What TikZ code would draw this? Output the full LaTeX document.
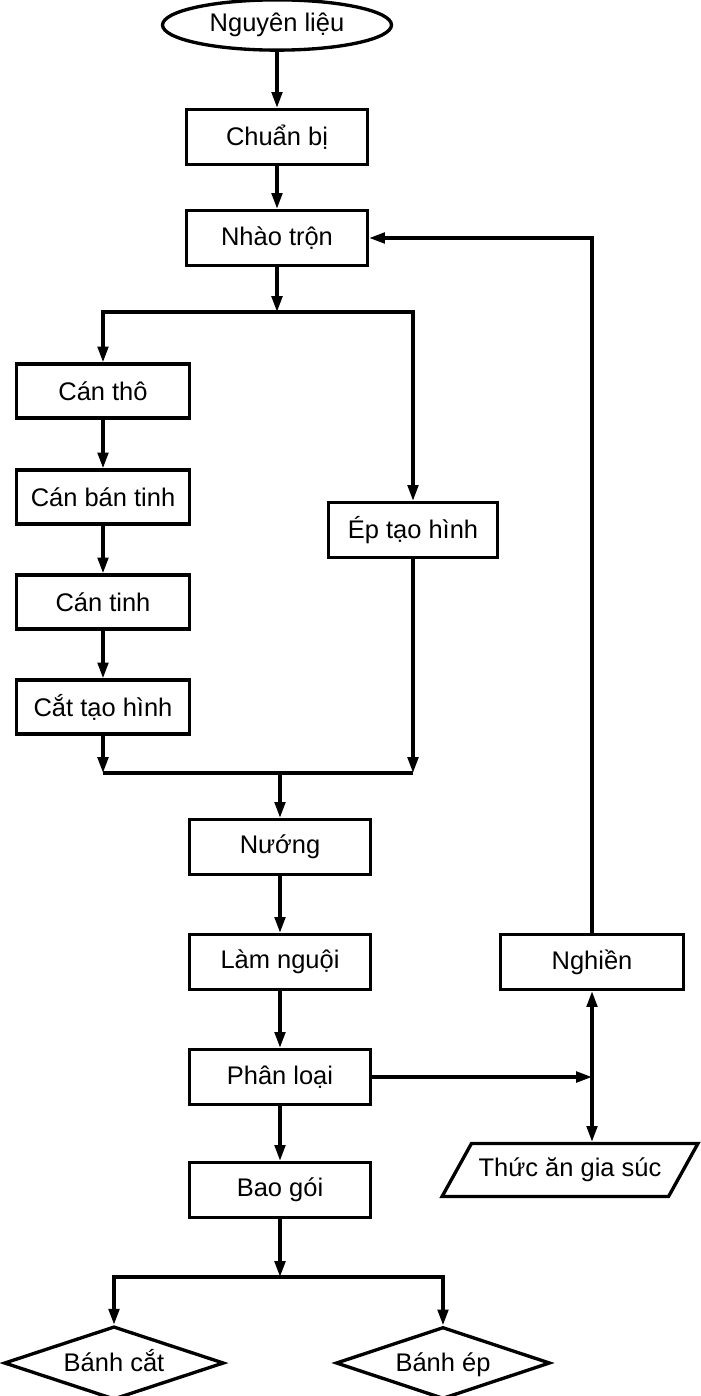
\documentclass[tikz,border=0pt]{standalone}
\usepackage{fontspec}
\setmainfont{Liberation Sans}
\usetikzlibrary{shapes.geometric,arrows.meta}

\begin{document}
\begin{tikzpicture}[x=0.02cm, y=-0.02cm, line width=1.9pt,
    font=\fontsize{14.5pt}{17pt}\selectfont,
    box/.style={draw, rectangle, minimum width=3.62cm, minimum height=1.1cm},
    lbox/.style={box, minimum width=3.46cm, minimum height=1.08cm},
    dia/.style={diamond, draw, shape aspect=3, minimum width=4.26cm, minimum height=1.44cm,
        text height=2.2ex, text depth=0.4ex},
    arr/.style={-{Triangle[length=9pt,width=6pt]}}]
\useasboundingbox (0,0) rectangle (700,1396);

    \node [ellipse, draw, minimum width=4.58cm, minimum height=0.8cm] (nl) at (277,25) {Nguyên liệu};
    \node [box] (cb) at (277,137) {Chuẩn bị};
    \node [box] (nt) at (277,238) {Nhào trộn};
    \node [lbox] (ct) at (103,391) {Cán thô};
    \node [lbox] (cbt) at (103,497) {Cán bán tinh};
    \node [lbox] (cti) at (103,602) {Cán tinh};
    \node [lbox] (cth) at (103,707) {Cắt tạo hình};
    \node [box, minimum width=3.38cm] (eth) at (413,530) {Ép tạo hình};
    \node [box] (nu) at (280,847) {Nướng};
    \node [box] (ln) at (280,962) {Làm nguội};
    \node [box] (pl) at (280,1077) {Phân loại};
    \node [box] (bg) at (280,1190) {Bao gói};
    \node [box, minimum width=3.66cm] (nh) at (592,962) {Nghiền};
    \node [trapezium, draw, trapezium left angle=51, trapezium right angle=129, trapezium stretches=true,
        minimum width=5.12cm, minimum height=1.06cm] (ta) at (570,1170) {Thức ăn gia súc};
    \node [dia] (bc) at (114,1363) {Bánh cắt};
    \node [dia] (be) at (443,1363) {Bánh ép};

    \coordinate (s1) at (277,312);
    \coordinate (s2) at (280,773);
    \coordinate (s3) at (280,1277);
    \coordinate (j) at (nh |- pl);

    \draw[arr] (nl) -- (cb);
    \draw[arr] (cb) -- (nt);
    \draw[arr] (nt) -- (s1);
    \draw[arr] (s1) -| (ct);
    \draw[arr] (s1) -| (eth);
    \draw[arr] (ct) -- (cbt);
    \draw[arr] (cbt) -- (cti);
    \draw[arr] (cti) -- (cth);
    \draw[arr] (cth) -- (cth |- s2);
    \draw[arr] (eth) -- (eth |- s2);
    \draw (cth |- s2) -- (eth |- s2);
    \draw[arr] (s2) -- (nu);
    \draw[arr] (nu) -- (ln);
    \draw[arr] (ln) -- (pl);
    \draw[arr] (pl) -- (bg);
    \draw[arr] (bg) -- (s3);
    \draw[arr] (s3) -| (bc);
    \draw[arr] (s3) -| (be);
    \draw[arr] (pl) -- (j);
    \draw[arr] (j) -- (nh);
    \draw[arr] (j) -- (j |- ta.north);
    \draw[arr] (nh) |- (nt);

\end{tikzpicture}
\end{document}
